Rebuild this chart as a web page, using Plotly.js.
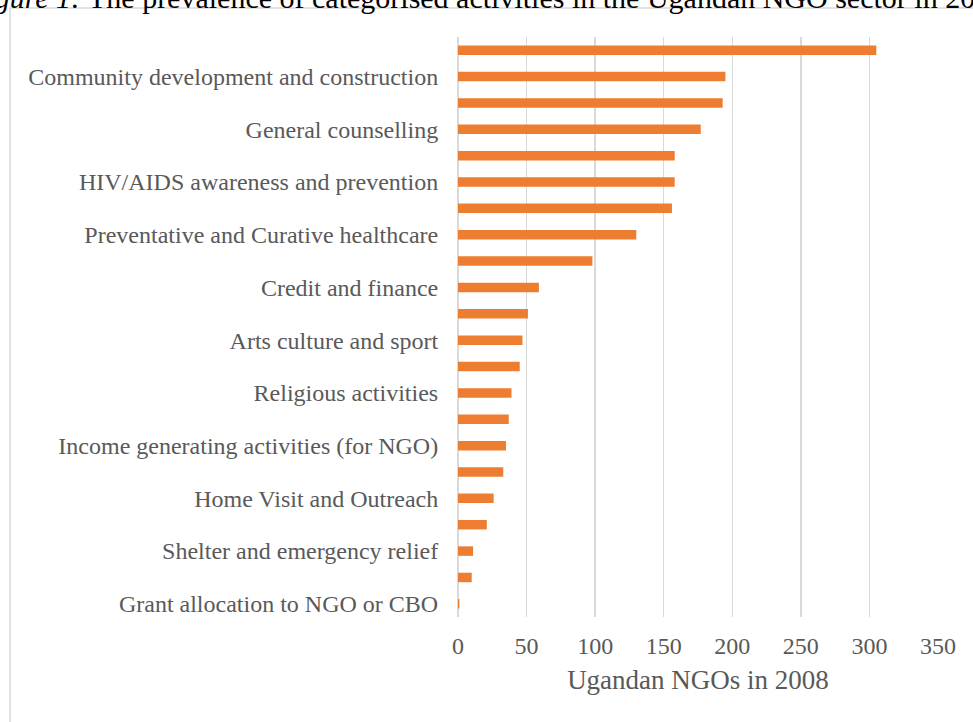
<!DOCTYPE html>
<html>
<head>
<meta charset="utf-8">
<script src="https://cdn.plot.ly/plotly-3.0.1.min.js"></script>
<style>html,body{margin:0;padding:0;background:#fff;}#chart{width:973px;height:722px;}</style>
</head>
<body>
<div id="chart"></div>
<script>
// Activity rank (1 = most common) — only every second category is labelled in the source chart
const ranks = [1,2,3,4,5,6,7,8,9,10,11,12,13,14,15,16,17,18,19,20,21,22];
const categoryLabels = [
  "", "Community development and construction",
  "", "General counselling",
  "", "HIV/AIDS awareness and prevention",
  "", "Preventative and Curative healthcare",
  "", "Credit and finance",
  "", "Arts culture and sport",
  "", "Religious activities",
  "", "Income generating activities (for NGO)",
  "", "Home Visit and Outreach",
  "", "Shelter and emergency relief",
  "", "Grant allocation to NGO or CBO"
];
const ngoCounts = [305,195,193,177,158,158,156,130,98,59,51,47,45,39,37,35,33,26,21,11,10,1];
const xTicks = [0,50,100,150,200,250,300,350];
const chartTitle = "<i>Figure 1:</i> The prevalence of categorised activities in the Ugandan NGO sector in 2008";
const xTitle = "Ugandan NGOs in 2008";

const tickVals = ranks.filter((r, i) => categoryLabels[i] !== "");
const tickText = categoryLabels.filter(l => l !== "");

const serif = "Liberation Serif, Times New Roman, serif";
const grey = "#595959";

const trace = {
  type: "bar",
  orientation: "h",
  x: ngoCounts,
  y: ranks,
  marker: {color: "#ED7D31"},
  hoverinfo: "skip"
};

const layout = {
  width: 973,
  height: 722,
  margin: {l: 458, r: 35, t: 37, b: 105, pad: 0},
  paper_bgcolor: "#ffffff",
  plot_bgcolor: "#ffffff",
  showlegend: false,
  bargap: 0.64,
  font: {family: serif, color: grey},
  xaxis: {
    range: [0, 350],
    tickvals: xTicks,
    showgrid: true,
    gridcolor: "#d9d9d9",
    gridwidth: 1.5,
    zeroline: true,
    zerolinecolor: "#d9d9d9",
    zerolinewidth: 1.5,
    showline: false,
    ticks: "outside",
    ticklen: 7,
    tickcolor: "rgba(0,0,0,0)",
    tickfont: {family: serif, size: 24, color: grey},
    title: {text: xTitle, font: {family: serif, size: 27, color: grey}, standoff: 12},
    fixedrange: true
  },
  yaxis: {
    range: [22.5, 0.5],
    tickvals: tickVals,
    ticktext: tickText,
    showgrid: false,
    zeroline: false,
    showline: false,
    ticks: "outside",
    ticklen: 14,
    tickcolor: "rgba(0,0,0,0)",
    tickfont: {family: serif, size: 24, color: grey},
    fixedrange: true
  },
  shapes: [{
    type: "rect", xref: "paper", yref: "paper",
    x0: -0.9333, x1: 1.13, y0: -0.25, y1: 1.05,
    line: {color: "#d9d9d9", width: 1.5},
    fillcolor: "rgba(0,0,0,0)",
    layer: "below"
  }],
  annotations: [{
    text: chartTitle,
    xref: "paper", yref: "paper",
    x: -1.0263, y: 1.0683,
    xanchor: "left", yanchor: "middle",
    showarrow: false,
    font: {family: serif, size: 30, color: "#000000"}
  }]
};

Plotly.newPlot("chart", [trace], layout, {staticPlot: true, displayModeBar: false});
</script>
</body>
</html>
